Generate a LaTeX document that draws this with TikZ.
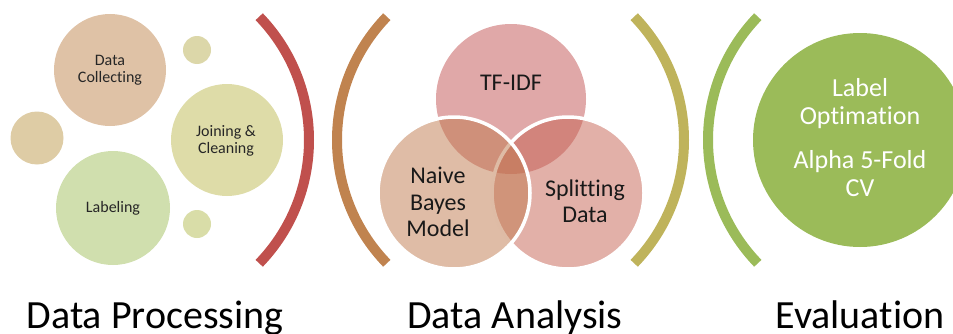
\documentclass[tikz,border=0pt]{standalone}
\usepackage{fontspec}
\setmainfont{Carlito}[Ligatures={NoCommon}]
\begin{document}
\begin{tikzpicture}[x=1pt,y=1pt,
  bub/.style={circle,inner sep=0pt,minimum size=#1},
  smalltxt/.style={align=center,font=\fontsize{16}{17}\selectfont,text=black!85},
  midtxt/.style={align=center,font=\fontsize{24}{26.5}\selectfont,text=black!90},
  bigtxt/.style={anchor=base,font=\fontsize{40}{44}\selectfont,text=black},
  bracket/.style={line width=10pt},
  venn/.style={circle,inner sep=0pt,minimum size=152pt,fill opacity=0.5}]
\useasboundingbox (0,0) rectangle (953,333);
\clip (0,0) rectangle (953,333);
\definecolor{cDC}{HTML}{DFC2A6}
\definecolor{cST}{HTML}{DCD7A9}
\definecolor{cLM}{HTML}{DECCA5}
\definecolor{cJC}{HTML}{DEDCA8}
\definecolor{cLB}{HTML}{D0DFAE}
\definecolor{cSB}{HTML}{D9DDA8}
\definecolor{cRed}{HTML}{C0504D}
\definecolor{cBrown}{HTML}{C0834F}
\definecolor{cOlive}{HTML}{BFB35B}
\definecolor{cGreen}{HTML}{9BBB59}
\definecolor{cTF}{HTML}{C15151}
\definecolor{cSD}{HTML}{C56151}
\definecolor{cNB}{HTML}{BF794D}

% Panel 1
\node[bub=112pt,fill=cDC] (dc) at (110,263) {};
\node[bub=28pt,fill=cST] (st) at (197,283) {};
\node[bub=53pt,fill=cLM] (lm) at (37,195) {};
\node[bub=112pt,fill=cJC] (jc) at (227,193) {};
\node[bub=114pt,fill=cLB] (lb) at (113,125) {};
\node[bub=28pt,fill=cSB] (sb) at (197,109) {};
\node[smalltxt] (dct) at (110,263) {Data\\Collecting};
\node[smalltxt] (jct) at (226,192) {Joining \&\\Cleaning};
\node[smalltxt] (lbt) at (113,125) {Labeling};

% Brackets
\draw[bracket,cRed] (131.5,193) ++(-44:177.5) arc[start angle=-44,end angle=44,radius=177.5];
\draw[bracket,cBrown] (514.5,193) ++(136:177.5) arc[start angle=136,end angle=224,radius=177.5];
\draw[bracket,cOlive] (506.5,193) ++(-44:177.5) arc[start angle=-44,end angle=44,radius=177.5];
\draw[bracket,cGreen] (885.5,193) ++(136:177.5) arc[start angle=136,end angle=224,radius=177.5];

% Panel 2 Venn
\node[venn,fill=cTF,minimum size=150pt] (tf) at (511,234) {};
\node[venn,fill=cSD,draw=white,draw opacity=1,line width=3.5pt] (sd) at (568,140) {};
\node[venn,fill=cNB,draw=white,draw opacity=1,line width=3.5pt] (nb) at (454,140) {};
\node[midtxt] (tft) at (511,250) {TF-IDF};
\node[midtxt] (nbt) at (438,131) {Naive\\Bayes\\Model};
\node[midtxt] (sdt) at (585,131.5) {Splitting\\Data};

% Panel 3
\node[bub=214pt,fill=cGreen] (ev) at (860,193) {};
\node[align=center,font=\fontsize{26}{28}\selectfont,text=white] (evt1) at (860,229) {Label\\Optimation};
\node[align=center,font=\fontsize{26}{28}\selectfont,text=white] (evt2) at (860,159) {Alpha 5-Fold\\CV};

% Titles
\node[bigtxt] (t1) at (155,5) {Data Processing};
\node[bigtxt] (t2) at (515,5) {Data Analysis};
\node[bigtxt] (t3) at (860,5) {Evaluation};
\end{tikzpicture}
\end{document}
